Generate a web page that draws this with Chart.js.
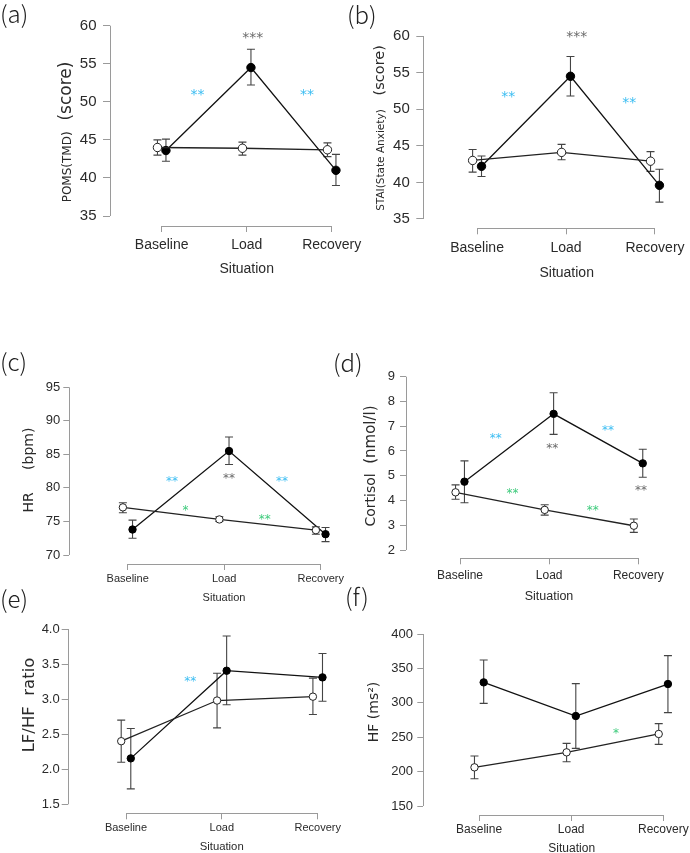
<!DOCTYPE html>
<html>
<head>
<meta charset="utf-8">
<title>Stress response by situation</title>
<script src="https://cdn.jsdelivr.net/npm/chart.js@4.4.1/dist/chart.umd.min.js"></script>
<style>
  html, body { margin: 0; padding: 0; background: #fff; }
  #wrap { position: relative; width: 690px; height: 853px; }
  #wrap canvas { position: absolute; left: 0; top: 0; }
</style>
</head>
<body>
<div id="wrap">
  <canvas id="pomsChart" width="690" height="853"></canvas>
  <canvas id="staiChart" width="690" height="853"></canvas>
  <canvas id="hrChart" width="690" height="853"></canvas>
  <canvas id="cortisolChart" width="690" height="853"></canvas>
  <canvas id="lfhfChart" width="690" height="853"></canvas>
  <canvas id="hfChart" width="690" height="853"></canvas>
</div>
<script>
const situations = ['Baseline', 'Load', 'Recovery'];

// (a) POMS (TMD)
const pomsTicks = [35, 40, 45, 50, 55, 60];
const pomsOpen = [44.0, 43.9, 43.7];
const pomsOpenLow = [43.0, 43.0, 42.8];
const pomsOpenHigh = [45.0, 44.7, 44.6];
const pomsFilled = [43.6, 54.5, 41.0];
const pomsFilledLow = [42.2, 52.2, 39.0];
const pomsFilledHigh = [45.1, 56.9, 43.1];
const pomsStars = [[0.42, 51.4, '**', 'blue'], [1.07, 58.9, '***', 'grey'], [1.71, 51.4, '**', 'blue']];

// (b) STAI state anxiety
const staiTicks = [35, 40, 45, 50, 55, 60];
const staiOpen = [43.0, 44.1, 42.9];
const staiOpenLow = [41.4, 43.1, 41.5];
const staiOpenHigh = [44.5, 45.2, 44.2];
const staiFilled = [42.2, 54.5, 39.6];
const staiFilledLow = [40.8, 51.8, 37.3];
const staiFilledHigh = [43.6, 57.2, 41.8];
const staiStars = [[0.35, 52.2, '**', 'blue'], [1.12, 60.4, '***', 'grey'], [1.71, 51.4, '**', 'blue']];

// (c) heart rate
const hrTicks = [70, 75, 80, 85, 90, 95];
const hrOpen = [77.1, 75.3, 73.7];
const hrOpenLow = [76.3, 75.0, 73.1];
const hrOpenHigh = [77.8, 75.7, 74.2];
const hrFilled = [73.8, 85.5, 73.1];
const hrFilledLow = [72.5, 83.5, 72.0];
const hrFilledHigh = [75.2, 87.6, 74.1];
const hrStars = [[0.46, 81.4, '**', 'blue'], [1.05, 81.8, '**', 'grey'], [1.6, 81.4, '**', 'blue'],
                 [0.6, 77.1, '*', 'green'], [1.42, 75.8, '**', 'green']];

// (d) cortisol
const cortisolTicks = [2, 3, 4, 5, 6, 7, 8, 9];
const cortisolOpen = [4.33, 3.62, 2.98];
const cortisolOpenLow = [4.05, 3.41, 2.71];
const cortisolOpenHigh = [4.63, 3.83, 3.25];
const cortisolFilled = [4.76, 7.5, 5.5];
const cortisolFilledLow = [3.91, 6.67, 4.94];
const cortisolFilledHigh = [5.6, 8.35, 6.07];
const cortisolStars = [[0.40, 6.64, '**', 'blue'], [1.035, 6.21, '**', 'grey'], [1.66, 6.94, '**', 'blue'],
                       [2.03, 4.53, '**', 'grey'], [0.59, 4.41, '**', 'green'], [1.49, 3.71, '**', 'green']];

// (e) LF/HF ratio
const lfhfTicks = [1.5, 2.0, 2.5, 3.0, 3.5, 4.0];
const lfhfOpen = [2.40, 2.98, 3.035];
const lfhfOpenLow = [2.10, 2.59, 2.78];
const lfhfOpenHigh = [2.70, 3.37, 3.30];
const lfhfFilled = [2.155, 3.405, 3.31];
const lfhfFilledLow = [1.72, 2.92, 2.97];
const lfhfFilledHigh = [2.58, 3.90, 3.65];
const lfhfStars = [[0.67, 3.30, '**', 'blue']];

// (f) HF
const hfTicks = [150, 200, 250, 300, 350, 400];
const hfOpen = [206.2, 228.0, 254.7];
const hfOpenLow = [189.7, 214.4, 239.6];
const hfOpenHigh = [222.7, 241.0, 269.7];
const hfFilled = [329.7, 280.8, 327.3];
const hfFilledLow = [299.2, 233.8, 285.7];
const hfFilledHigh = [362.2, 327.8, 368.5];
const hfStars = [[1.485, 260.5, '*', 'green']];

const starColors = { blue: '#3bbdf2', grey: '#6a6a6a', green: '#3ecb7c' };
const AXIS_COLOR = '#9a9a9a';
const TEXT_COLOR = '#2a2a2a';
const DODGE = 0.05;
const Y_AXIS_W = 50;
const X_AXIS_H = 30;

const panels = [
  { id: 'pomsChart', label: '(a)', labelPos: [0, 14], ticks: pomsTicks, dec: 0,
    open: [pomsOpen, pomsOpenLow, pomsOpenHigh], filled: [pomsFilled, pomsFilledLow, pomsFilledHigh], stars: pomsStars,
    area: { left: 110, top: 18, right: 341, bottom: 226 },
    cal: { hi: [60, 25.7], lo: [35, 216], cat0: 161.7, cat2: 331.7 },
    font: { x: 14, y: 15, title: 14, star: 14 }, pad: { x: 5, y: 6.5 }, tick: 7, radius: 4.2,
    xTitle: [246.7, 269], yTitle: { x: 65, y: 132, parts: [['POMS(TMD)', 12], ['  (score)', 17]] } },
  { id: 'staiChart', label: '(b)', labelPos: [347, 15], ticks: staiTicks, dec: 0,
    open: [staiOpen, staiOpenLow, staiOpenHigh], filled: [staiFilled, staiFilledLow, staiFilledHigh], stars: staiStars,
    area: { left: 423.3, top: 25, right: 686, bottom: 228.3 },
    cal: { hi: [60, 36], lo: [35, 219], cat0: 477.3, cat2: 656 },
    font: { x: 14, y: 15, title: 14, star: 14 }, pad: { x: 5, y: 6.5 }, tick: 7, radius: 4.2,
    xTitle: [566.7, 273], yTitle: { x: 379, y: 128, parts: [['STAI(State Anxiety)', 10.5], ['   (score)', 14.5]] } },
  { id: 'hrChart', label: '(c)', labelPos: [0, 362], ticks: hrTicks, dec: 0,
    open: [hrOpen, hrOpenLow, hrOpenHigh], filled: [hrFilled, hrFilledLow, hrFilledHigh], stars: hrStars,
    area: { left: 69.3, top: 380, right: 340, bottom: 564 },
    cal: { hi: [95, 387.3], lo: [70, 555], cat0: 127.7, cat2: 320.7 },
    font: { x: 11, y: 13, title: 11, star: 12 }, pad: { x: 2, y: 3 }, tick: 6, radius: 3.7,
    xTitle: [224, 597.7], yTitle: { x: 28, y: 470, parts: [['HR', 14], ['     (bpm)', 14]] } },
  { id: 'cortisolChart', label: '(d)', labelPos: [333, 363], ticks: cortisolTicks, dec: 0,
    open: [cortisolOpen, cortisolOpenLow, cortisolOpenHigh], filled: [cortisolFilled, cortisolFilledLow, cortisolFilledHigh], stars: cortisolStars,
    area: { left: 406, top: 370, right: 685, bottom: 558.3 },
    cal: { hi: [9, 376.7], lo: [2, 550], cat0: 460, cat2: 638.3 },
    font: { x: 12, y: 13, title: 12.5, star: 12 }, pad: { x: 4, y: 5 }, tick: 6, radius: 3.7,
    xTitle: [549, 596.7], yTitle: { x: 370, y: 466, parts: [['Cortisol', 14], ['  (nmol/l)', 15]] } },
  { id: 'lfhfChart', label: '(e)', labelPos: [0, 599], ticks: lfhfTicks, dec: 1,
    open: [lfhfOpen, lfhfOpenLow, lfhfOpenHigh], filled: [lfhfFilled, lfhfFilledLow, lfhfFilledHigh], stars: lfhfStars,
    area: { left: 67.7, top: 622, right: 340, bottom: 813.3 },
    cal: { hi: [4, 629], lo: [1.5, 804.3], cat0: 126, cat2: 317.7 },
    font: { x: 11, y: 13, title: 11.3, star: 12 }, pad: { x: 2.5, y: 2 }, tick: 6, radius: 3.7,
    xTitle: [221.7, 847.3], yTitle: { x: 28, y: 705, parts: [['LF/HF', 16.5], ['  ratio', 16.5]] } },
  { id: 'hfChart', label: '(f)', labelPos: [345, 597], ticks: hfTicks, dec: 0,
    open: [hfOpen, hfOpenLow, hfOpenHigh], filled: [hfFilled, hfFilledLow, hfFilledHigh], stars: hfStars,
    area: { left: 423.3, top: 627, right: 686, bottom: 815 },
    cal: { hi: [400, 634], lo: [150, 806], cat0: 479.3, cat2: 664.3 },
    font: { x: 12, y: 13, title: 12, star: 12 }, pad: { x: 1, y: 4.3 }, tick: 6, radius: 3.7,
    xTitle: [571.7, 848.3], yTitle: { x: 373, y: 712, parts: [['HF', 14], [' (ms\u00b2)', 14]] } }
];

function makeDeco(p) {
  return {
    id: 'deco',
    beforeDatasetsDraw(chart) {
      const { ctx, scales: { x, y } } = chart;
      ctx.save();
      ctx.strokeStyle = '#444';
      ctx.lineWidth = 1.1;
      chart.data.datasets.forEach(ds => {
        ds.data.forEach((pt, i) => {
          const px = x.getPixelForValue(pt.x);
          const top = y.getPixelForValue(ds.errHigh[i]);
          const bot = y.getPixelForValue(ds.errLow[i]);
          ctx.beginPath();
          ctx.moveTo(px, top); ctx.lineTo(px, bot);
          ctx.moveTo(px - 4, top); ctx.lineTo(px + 4, top);
          ctx.moveTo(px - 4, bot); ctx.lineTo(px + 4, bot);
          ctx.stroke();
        });
      });
      ctx.restore();
    },
    afterDraw(chart) {
      const { ctx, chartArea, scales: { x, y } } = chart;
      ctx.save();
      // R style axis lines, only across the tick range
      ctx.strokeStyle = AXIS_COLOR;
      ctx.lineWidth = 1;
      const lx = Math.round(chartArea.left) + 0.5;
      const by = Math.round(chartArea.bottom) + 0.5;
      ctx.beginPath();
      ctx.moveTo(lx, y.getPixelForValue(p.ticks[0]));
      ctx.lineTo(lx, y.getPixelForValue(p.ticks[p.ticks.length - 1]));
      ctx.moveTo(x.getPixelForValue(0), by);
      ctx.lineTo(x.getPixelForValue(situations.length - 1), by);
      ctx.stroke();

      // significance marks
      ctx.textAlign = 'center';
      ctx.textBaseline = 'alphabetic';
      ctx.font = p.font.star + 'px "DejaVu Sans"';
      p.stars.forEach(([sx, sy, txt, kind]) => {
        ctx.fillStyle = starColors[kind];
        ctx.fillText(txt, x.getPixelForValue(sx), y.getPixelForValue(sy) + p.font.star * 0.55);
      });

      // x title
      ctx.fillStyle = TEXT_COLOR;
      ctx.textBaseline = 'middle';
      ctx.font = p.font.title + 'px "Liberation Sans"';
      ctx.fillText('Situation', p.xTitle[0], p.xTitle[1]);

      // y title (mixed sizes, rotated)
      ctx.translate(p.yTitle.x, p.yTitle.y);
      ctx.rotate(-Math.PI / 2);
      ctx.textAlign = 'left';
      ctx.textBaseline = 'alphabetic';
      let total = 0;
      const widths = p.yTitle.parts.map(([t, s]) => {
        ctx.font = s + 'px "DejaVu Sans"';
        const w = ctx.measureText(t).width;
        total += w;
        return w;
      });
      const maxSize = Math.max(...p.yTitle.parts.map(q => q[1]));
      let u = -total / 2;
      p.yTitle.parts.forEach(([t, s], i) => {
        ctx.font = s + 'px "DejaVu Sans"';
        ctx.fillText(t, u, maxSize * 0.36);
        u += widths[i];
      });
      ctx.setTransform(1, 0, 0, 1, 0, 0);

      // panel letter
      ctx.fillStyle = '#222';
      ctx.textAlign = 'left';
      ctx.textBaseline = 'middle';
      ctx.font = '300 24px "Noto Sans CJK JP"';
      ctx.fillText(p.label, p.labelPos[0], p.labelPos[1]);
      ctx.restore();
    }
  };
}

function toPoints(values, shift) {
  return values.map((v, i) => ({ x: i + shift, y: v }));
}

panels.forEach(p => {
  const a = p.area, c = p.cal;
  const unit = (c.cat2 - c.cat0) / (situations.length - 1);
  const xMin = -(c.cat0 - a.left) / unit;
  const xMax = (situations.length - 1) + (a.right - c.cat2) / unit;
  const ppu = (c.lo[1] - c.hi[1]) / (c.hi[0] - c.lo[0]);
  const yMax = c.hi[0] + (c.hi[1] - a.top) / ppu;
  const yMin = c.lo[0] - (a.bottom - c.lo[1]) / ppu;

  new Chart(document.getElementById(p.id), {
    type: 'line',
    data: {
      datasets: [
        {
          label: 'open',
          data: toPoints(p.open[0], -DODGE),
          errLow: p.open[1], errHigh: p.open[2],
          borderColor: '#222', borderWidth: 1.3,
          pointRadius: p.radius, pointBorderWidth: 1,
          pointBackgroundColor: '#fff', pointBorderColor: '#222',
          tension: 0, clip: false
        },
        {
          label: 'filled',
          data: toPoints(p.filled[0], DODGE),
          errLow: p.filled[1], errHigh: p.filled[2],
          borderColor: '#111', borderWidth: 1.3,
          pointRadius: p.radius, pointBorderWidth: 1,
          pointBackgroundColor: '#000', pointBorderColor: '#000',
          tension: 0, clip: false
        }
      ]
    },
    options: {
      responsive: false,
      animation: false,
      events: [],
      layout: {
        autoPadding: false,
        padding: { left: a.left - Y_AXIS_W, top: a.top, right: 690 - a.right, bottom: 853 - a.bottom - X_AXIS_H }
      },
      plugins: { legend: { display: false }, tooltip: { enabled: false } },
      scales: {
        x: {
          type: 'linear', min: xMin, max: xMax,
          afterBuildTicks: s => { s.ticks = situations.map((_, i) => ({ value: i })); },
          afterFit: s => { s.height = X_AXIS_H; },
          border: { display: false },
          grid: { drawOnChartArea: false, drawTicks: true, tickLength: 6, color: AXIS_COLOR },
          ticks: {
            autoSkip: false, maxRotation: 0, padding: p.pad.x, color: TEXT_COLOR,
            font: { family: 'Liberation Sans', size: p.font.x },
            callback: v => situations[v]
          }
        },
        y: {
          min: yMin, max: yMax,
          afterBuildTicks: s => { s.ticks = p.ticks.map(v => ({ value: v })); },
          afterFit: s => { s.width = Y_AXIS_W; },
          border: { display: false },
          grid: { drawOnChartArea: false, drawTicks: true, tickLength: p.tick, color: AXIS_COLOR },
          ticks: {
            padding: p.pad.y, color: TEXT_COLOR,
            font: { family: 'Liberation Sans', size: p.font.y },
            callback: v => v.toFixed(p.dec)
          }
        }
      }
    },
    plugins: [makeDeco(p)]
  });
});
</script>
</body>
</html>
